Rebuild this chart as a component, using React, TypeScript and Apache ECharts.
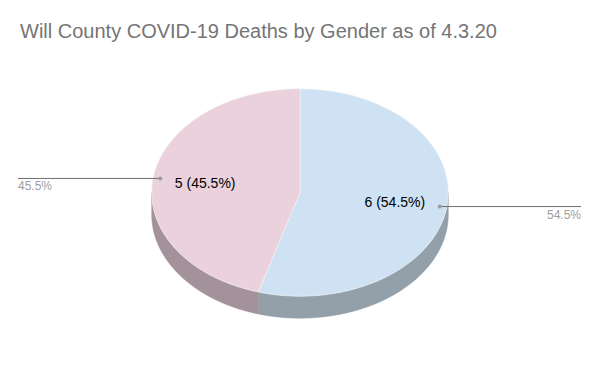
import React, { useEffect, useRef } from "react";
import * as echarts from "echarts";

const categories = ["Male", "Female"];
const values = [6, 5];
const topColors = ["#cfe2f3", "#ead1dc"];
const sideColors = ["#939fa9", "#a4929a"];
const titleText = "Will County COVID-19 Deaths by Gender as of 4.3.20";

export default function App() {
  const ref = useRef<HTMLDivElement>(null);
  useEffect(() => {
    document.body.style.margin = "0";
    const chart = echarts.init(ref.current!, null, { renderer: "svg" });
    const total = values.reduce((a, b) => a + b, 0);
    const cx = 300, cy = 192.5, rx = 148.3, ry = 103.7, depth = 22;
    const pt = (t: number, f = 1, dy = 0) => [cx + rx * f * Math.sin(t), cy - ry * f * Math.cos(t) + dy];

    const renderItem = (params: any, api: any) => {
      const i = params.dataIndex;
      const v = api.value(1);
      let before = 0;
      for (let k = 0; k < i; k++) before += values[k];
      const a0 = (before / total) * Math.PI * 2;
      const a1 = ((before + v) / total) * Math.PI * 2;
      const children: any[] = [];
      // side wall
      const s0 = Math.max(a0, Math.PI / 2), s1 = Math.min(a1, (Math.PI * 3) / 2);
      if (s1 > s0) {
        const top: number[][] = [];
        const n = 80;
        for (let k = 0; k <= n; k++) top.push(pt(s0 + ((s1 - s0) * k) / n));
        const bottom = top.map((p) => [p[0], p[1] + depth]).reverse();
        children.push({ type: "polygon", shape: { points: top.concat(bottom) }, style: { fill: sideColors[i], stroke: sideColors[i], lineWidth: 0.5 } });
      }
      // top surface
      const pts: number[][] = [[cx, cy]];
      const n = 160;
      for (let k = 0; k <= n; k++) pts.push(pt(a0 + ((a1 - a0) * k) / n));
      children.push({ type: "polygon", shape: { points: pts }, style: { fill: topColors[i], stroke: "#f4f4f4", lineWidth: 0.6 } });
      const pct = ((v / total) * 100).toFixed(1) + "%";
      const mid = (a0 + a1) / 2;
      const lp = pt(mid, 0.646);
      children.push({ type: "text", style: { text: `${v} (${pct})`, x: lp[0], y: lp[1], fill: "#000000", font: "14px Arial, 'Liberation Sans', sans-serif", align: "center", verticalAlign: "middle" } });
      // leader
      const dp = pt(mid, 0.952);
      const right = Math.sin(mid) > 0;
      const ex = right ? 581 : 18;
      children.push({ type: "line", shape: { x1: dp[0], y1: dp[1], x2: ex, y2: dp[1] }, style: { stroke: "#6f6f6f", lineWidth: 1 } });
      children.push({ type: "circle", shape: { cx: dp[0], cy: dp[1], r: 2 }, style: { fill: "#9a9a9a" } });
      children.push({ type: "text", style: { text: pct, x: ex, y: dp[1] + 2, fill: "#9e9e9e", font: "12px Arial, 'Liberation Sans', sans-serif", align: right ? "right" : "left", verticalAlign: "top" } });
      return { type: "group", children };
    };

    chart.setOption({
      animation: false,
      backgroundColor: "#ffffff",
      title: {
        text: titleText,
        left: 20,
        top: 21,
        padding: 0,
        textStyle: { color: "#757575", fontSize: 20, fontWeight: "normal", fontFamily: "Arial, 'Liberation Sans', sans-serif" },
      },
      series: [
        {
          type: "custom",
          coordinateSystem: "none",
          renderItem,
          data: categories.map((c, i) => ({ name: c, value: [i, values[i]] })),
        },
      ],
    });
    return () => chart.dispose();
  }, []);
  return <div ref={ref} style={{ width: 600, height: 371 }} />;
}
